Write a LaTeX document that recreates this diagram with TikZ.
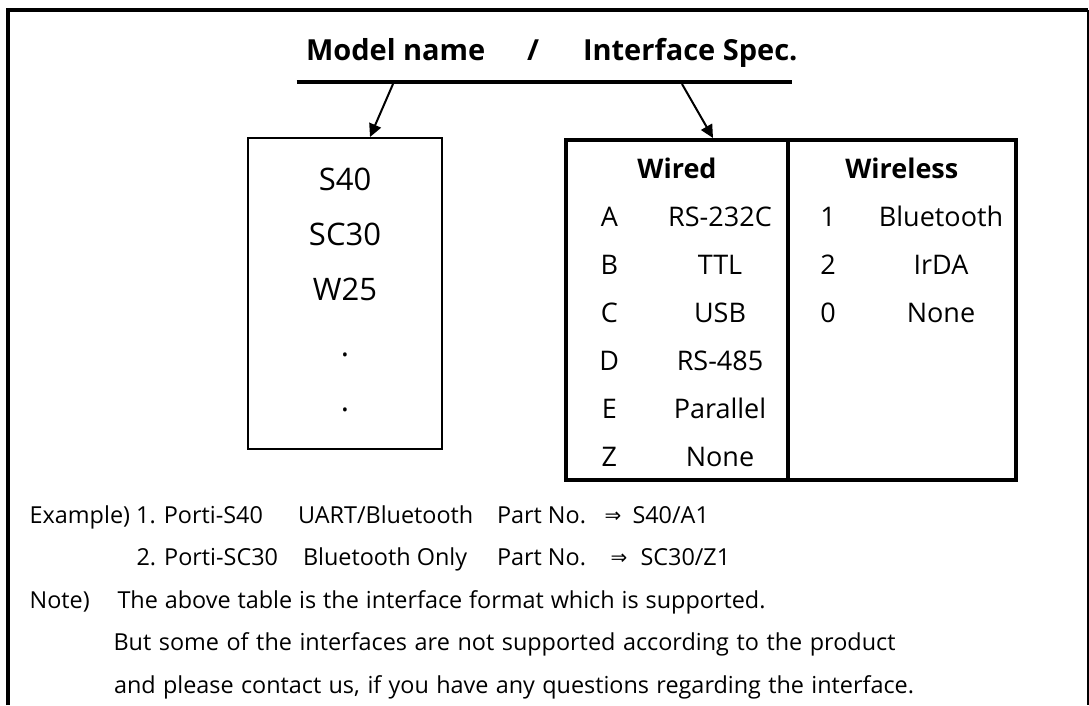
\documentclass[tikz,border=0pt]{standalone}
\usepackage{fontspec}
\setmainfont{Open Sans}
\newfontfamily\symfont{DejaVu Sans}
\usetikzlibrary{arrows.meta}
\begin{document}
\begin{tikzpicture}[x=1pt,y=-1pt,
  txt/.style={inner sep=0pt, outer sep=0pt},
  ttl/.style={txt, anchor=base west, font=\fontsize{29}{35}\selectfont\bfseries},
  boxm/.style={draw, line width=2pt, inner sep=0pt, outer sep=0pt, anchor=north west},
  tblcol/.style={draw, line width=4pt, inner sep=0pt, outer sep=0pt, anchor=north west},
  cell/.style={txt, anchor=base, font=\fontsize{27}{32}\selectfont},
  hcell/.style={txt, anchor=base, font=\fontsize{27}{32}\selectfont\bfseries},
  model/.style={txt, anchor=base, font=\fontsize{31}{36}\selectfont},
  note/.style={txt, anchor=base west, font=\fontsize{23.4}{28}\selectfont},
  impl/.style={txt, anchor=center, font=\fontsize{20}{24}\selectfont\symfont},
  arr/.style={line width=2pt, -{Triangle[length=13pt,width=12.5pt]}},
]
\useasboundingbox (0,0) rectangle (1089,705);
% outer frame (open at the bottom)
\draw[line width=3.2pt] (8,705) -- (8,10) -- (1087.5,10);
\draw[line width=2pt] (1087.5,10) -- (1087.5,705);

% title
\node[ttl] (tmodel) at (306,60) {Model name};
\node[ttl] (tslash) at (527,60) {/};
\node[ttl] (tiface) at (583,60) {Interface Spec.};
\coordinate (tl1) at (296.7,82);
\coordinate (tl2) at (791.7,82);
\draw[line width=4pt] (tl1) -- (tl2);

% model name box
\node[boxm, minimum width=194pt, minimum height=311.5pt] (mbox) at (248,137.5) {};
\node[model] (m1) at (345,190.7) {S40};
\node[model] (m2) at (345,245.7) {SC30};
\node[model] (m3) at (345,300) {W25};
\node[model] (m4) at (345,356.5) {.};
\node[model] (m5) at (345,411.5) {.};

% interface table
\node[tblcol, minimum width=222pt, minimum height=339.2pt] (wired) at (566,140.3) {};
\node[tblcol, minimum width=227.5pt, minimum height=339.2pt] (wless) at (788,140.3) {};
\node[hcell] (hw) at (677,178.3) {Wired};
\node[hcell] (hl) at (901.8,178.3) {Wireless};
\foreach \l/\v [count=\i] in {A/RS-232C, B/TTL, C/USB, D/RS-485, E/Parallel, Z/None} {
  \node[cell] (wk\i) at (609.3,178.3+48*\i) {\l};
  \node[cell] (wv\i) at (720,178.3+48*\i) {\v};
}
\foreach \l/\v [count=\i] in {1/Bluetooth, 2/IrDA, 0/None} {
  \node[cell] (lk\i) at (828,178.3+48*\i) {\l};
  \node[cell] (lv\i) at (941,178.3+48*\i) {\v};
}

% arrows
\coordinate (a1s) at (393,84);
\coordinate (a1e) at (370,137);
\coordinate (a2s) at (682,84);
\coordinate (a2e) at (713,138);
\draw[arr] (a1s) -- (a1e);
\draw[arr] (a2s) -- (a2e);

% notes
\node[note] (e1a) at (29.7,523.3) {Example) 1. Porti-S40};
\node[note] (e1b) at (298,523.3) {UART/Bluetooth};
\node[note] (e1c) at (497,523.3) {Part No.};
\node[impl] (e1d) at (613,517) {⇒};
\node[note] (e1e) at (632.5,523.3) {S40/A1};

\node[note] (e2a) at (136.5,565.8) {2. Porti-SC30};
\node[note] (e2b) at (303,565.8) {Bluetooth Only};
\node[note] (e2c) at (497,565.8) {Part No.};
\node[impl] (e2d) at (619,559.5) {⇒};
\node[note] (e2e) at (640.5,565.8) {SC30/Z1};

\node[note] (n1a) at (29.7,608.3) {Note)};
\node[note] (n1b) at (117.5,608.3) {\makebox[648pt][s]{The above table is the interface format which is supported.}};
\node[note] (n2) at (113.5,650.8) {\makebox[782pt][s]{But some of the interfaces are not supported according to the product}};
\node[note] (n3) at (114,693.3) {\makebox[800pt][s]{and please contact us, if you have any questions regarding the interface.}};
\end{tikzpicture}
\end{document}
